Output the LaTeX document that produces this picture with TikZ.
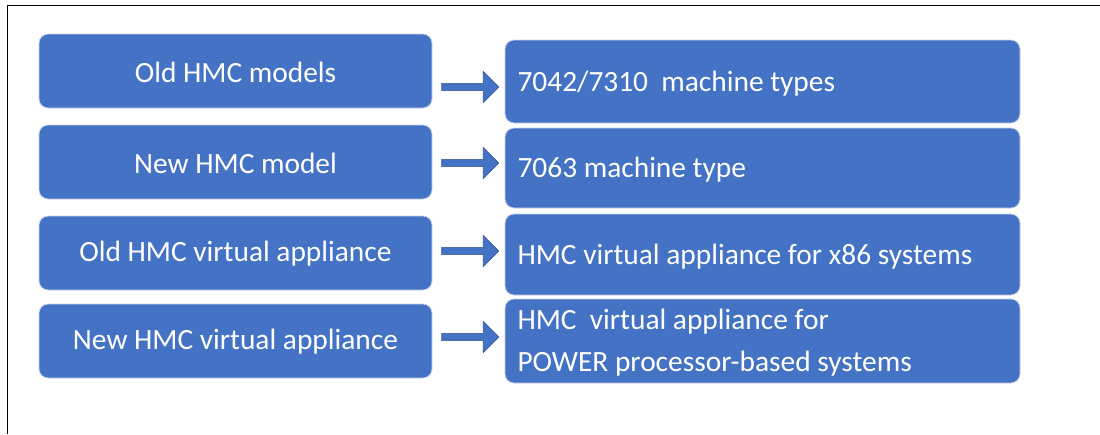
\documentclass[tikz,border=0pt]{standalone}
\usepackage{fontspec}
\setmainfont{Carlito}
\usetikzlibrary{shapes.arrows}
\definecolor{boxblue}{HTML}{4472C4}
\definecolor{edgeblue}{HTML}{2F528F}
\begin{document}
\begin{tikzpicture}[x=1pt,y=-1pt,
  bluebox/.style={draw=white!70!boxblue,line width=0.8pt,fill=boxblue,rounded corners=9pt},
  boxtext/.style={text=white,font=\fontsize{29.4}{42}\selectfont},
  rarrow/.style={single arrow,draw=edgeblue,fill=boxblue,line width=0.6pt,minimum height=57pt,minimum width=31pt,single arrow head extend=1pt,inner sep=0pt,single arrow tip angle=90}]
\useasboundingbox (0,0) rectangle (1100,434);
\draw[line width=1pt] (7,434) -- (7,5) -- (1101,5);
% left boxes
\foreach \n/\ya/\yb/\t in {l1/34/108/{Old HMC models},l2/125/199/{New HMC model},l3/216/290/{Old HMC virtual appliance},l4/304/378/{New HMC virtual appliance}}{
  \path[bluebox] (39,\ya) rectangle (432,\yb);
  \node[boxtext] (\n) at (235.5,{(\ya+\yb)/2+1}) {\t};
}
% right boxes
\foreach \n/\ya/\yb in {r1/40/123,r2/128/208,r3/214/295,r4/299/383}{
  \path[bluebox] (505,\ya) rectangle (1020,\yb);
  \coordinate (\n) at (505,{(\ya+\yb)/2});
}
\node[anchor=west,boxtext] (t1) at (514,84) {7042/7310\ \ machine types};
\node[anchor=west,boxtext] (t2) at (514,170) {7063 machine type};
\node[anchor=west,boxtext] (t3) at (514,257) {HMC virtual appliance for x86 systems};
\node[anchor=west,boxtext,align=left] (t4) at (514,343) {HMC\ \ virtual appliance for\\POWER processor-based systems};
% arrows
\foreach \y in {87,163,251,337}{
  \node[rarrow] at (468.5,\y) {};
}
\end{tikzpicture}
\end{document}
